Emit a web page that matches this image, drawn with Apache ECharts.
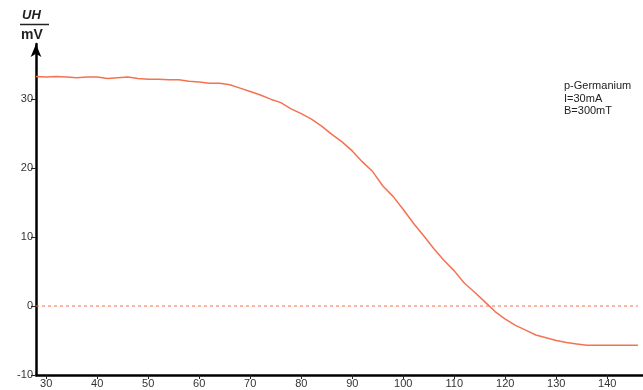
<!DOCTYPE html>
<html>
<head>
<meta charset="utf-8">
<script src="https://cdn.jsdelivr.net/npm/echarts@6/dist/echarts.min.js"></script>
<style>html,body{margin:0;padding:0;background:#fff}#c{width:643px;height:390px}</style>
</head>
<body>
<div id="c"></div>
<script>
const temps = [28,30,32,34,36,38,40,42,44,46,48,50,52,54,56,58,60,62,64,66,68,70,72,74,76,78,80,82,84,86,88,90,92,94,96,98,100,102,104,106,108,110,112,114,116,118,120,122,124,126,128,130,132,134,136,138,140,142,144,146];
const hallVoltage = [33.3,33.2,33.3,33.2,33.1,33.2,33.2,33.0,33.1,33.2,33.0,32.9,32.9,32.8,32.8,32.6,32.5,32.3,32.3,32.1,31.6,31.1,30.6,30.0,29.5,28.6,27.9,27.1,26.1,24.9,23.8,22.5,20.9,19.5,17.4,15.9,14.0,12.0,10.2,8.3,6.6,5.1,3.3,2.0,0.6,-0.8,-1.9,-2.8,-3.5,-4.2,-4.6,-5.0,-5.3,-5.5,-5.7,-5.7,-5.7,-5.7,-5.7,-5.7];
const zeroLineX = [28,146];
const zeroLineY = [0,0];
const xTicks = [30,40,50,60,70,80,90,100,110,120,130,140];
const yTicks = [-10,0,10,20,30];
const infoLines = ['p-Germanium','I=30mA','B=300mT'];

const chart = echarts.init(document.getElementById('c'));
const col = '#f47250';
chart.setOption({
  animation: false,
  grid: {left: 36, right: 0, top: 44, bottom: 15},
  xAxis: {
    type: 'value', min: 28, max: 147,
    axisLine: {show: true, onZero: false, lineStyle: {color: '#000', width: 2.5}},
    axisTick: {show: true, length: 4, customValues: xTicks, lineStyle: {color: '#222'}},
    axisLabel: {customValues: xTicks, color: '#333', fontSize: 11, fontFamily: 'Arial, Liberation Sans', margin: 3},
    splitLine: {show: false}
  },
  yAxis: {
    type: 'value', min: -10, max: 38,
    axisLine: {show: true, onZero: false, symbol: ['none','arrow'], symbolSize: [8, 13], lineStyle: {color: '#000', width: 2.5}},
    axisTick: {show: true, length: 5, customValues: yTicks, lineStyle: {color: '#222'}},
    axisLabel: {customValues: yTicks, color: '#333', fontSize: 11, fontFamily: 'Arial, Liberation Sans', margin: 3},
    splitLine: {show: false}
  },
  graphic: [
    {type: 'text', left: 22, top: 9, style: {text: 'UH', font: 'italic bold 13px Arial, Liberation Sans', fill: '#222'}},
    {type: 'line', shape: {x1: 20, y1: 24.5, x2: 49, y2: 24.5}, style: {stroke: '#222', lineWidth: 1.5}},
    {type: 'text', left: 21, top: 28, style: {text: 'mV', font: 'bold 14px Arial, Liberation Sans', fill: '#222'}},
    {type: 'text', left: 564, top: 80, style: {text: infoLines.join('\n'), font: '11px Arial, Liberation Sans', lineHeight: 12.5, fill: '#222'}}
  ],
  series: [
    {type: 'line', data: temps.map((t,i)=>[t, hallVoltage[i]]), showSymbol: false, smooth: false,
     lineStyle: {color: col, width: 1.5}},
    {type: 'line', data: zeroLineX.map((t,i)=>[t, zeroLineY[i]]), showSymbol: false,
     lineStyle: {color: col, width: 1, type: [3,3]}}
  ]
});
</script>
</body>
</html>
